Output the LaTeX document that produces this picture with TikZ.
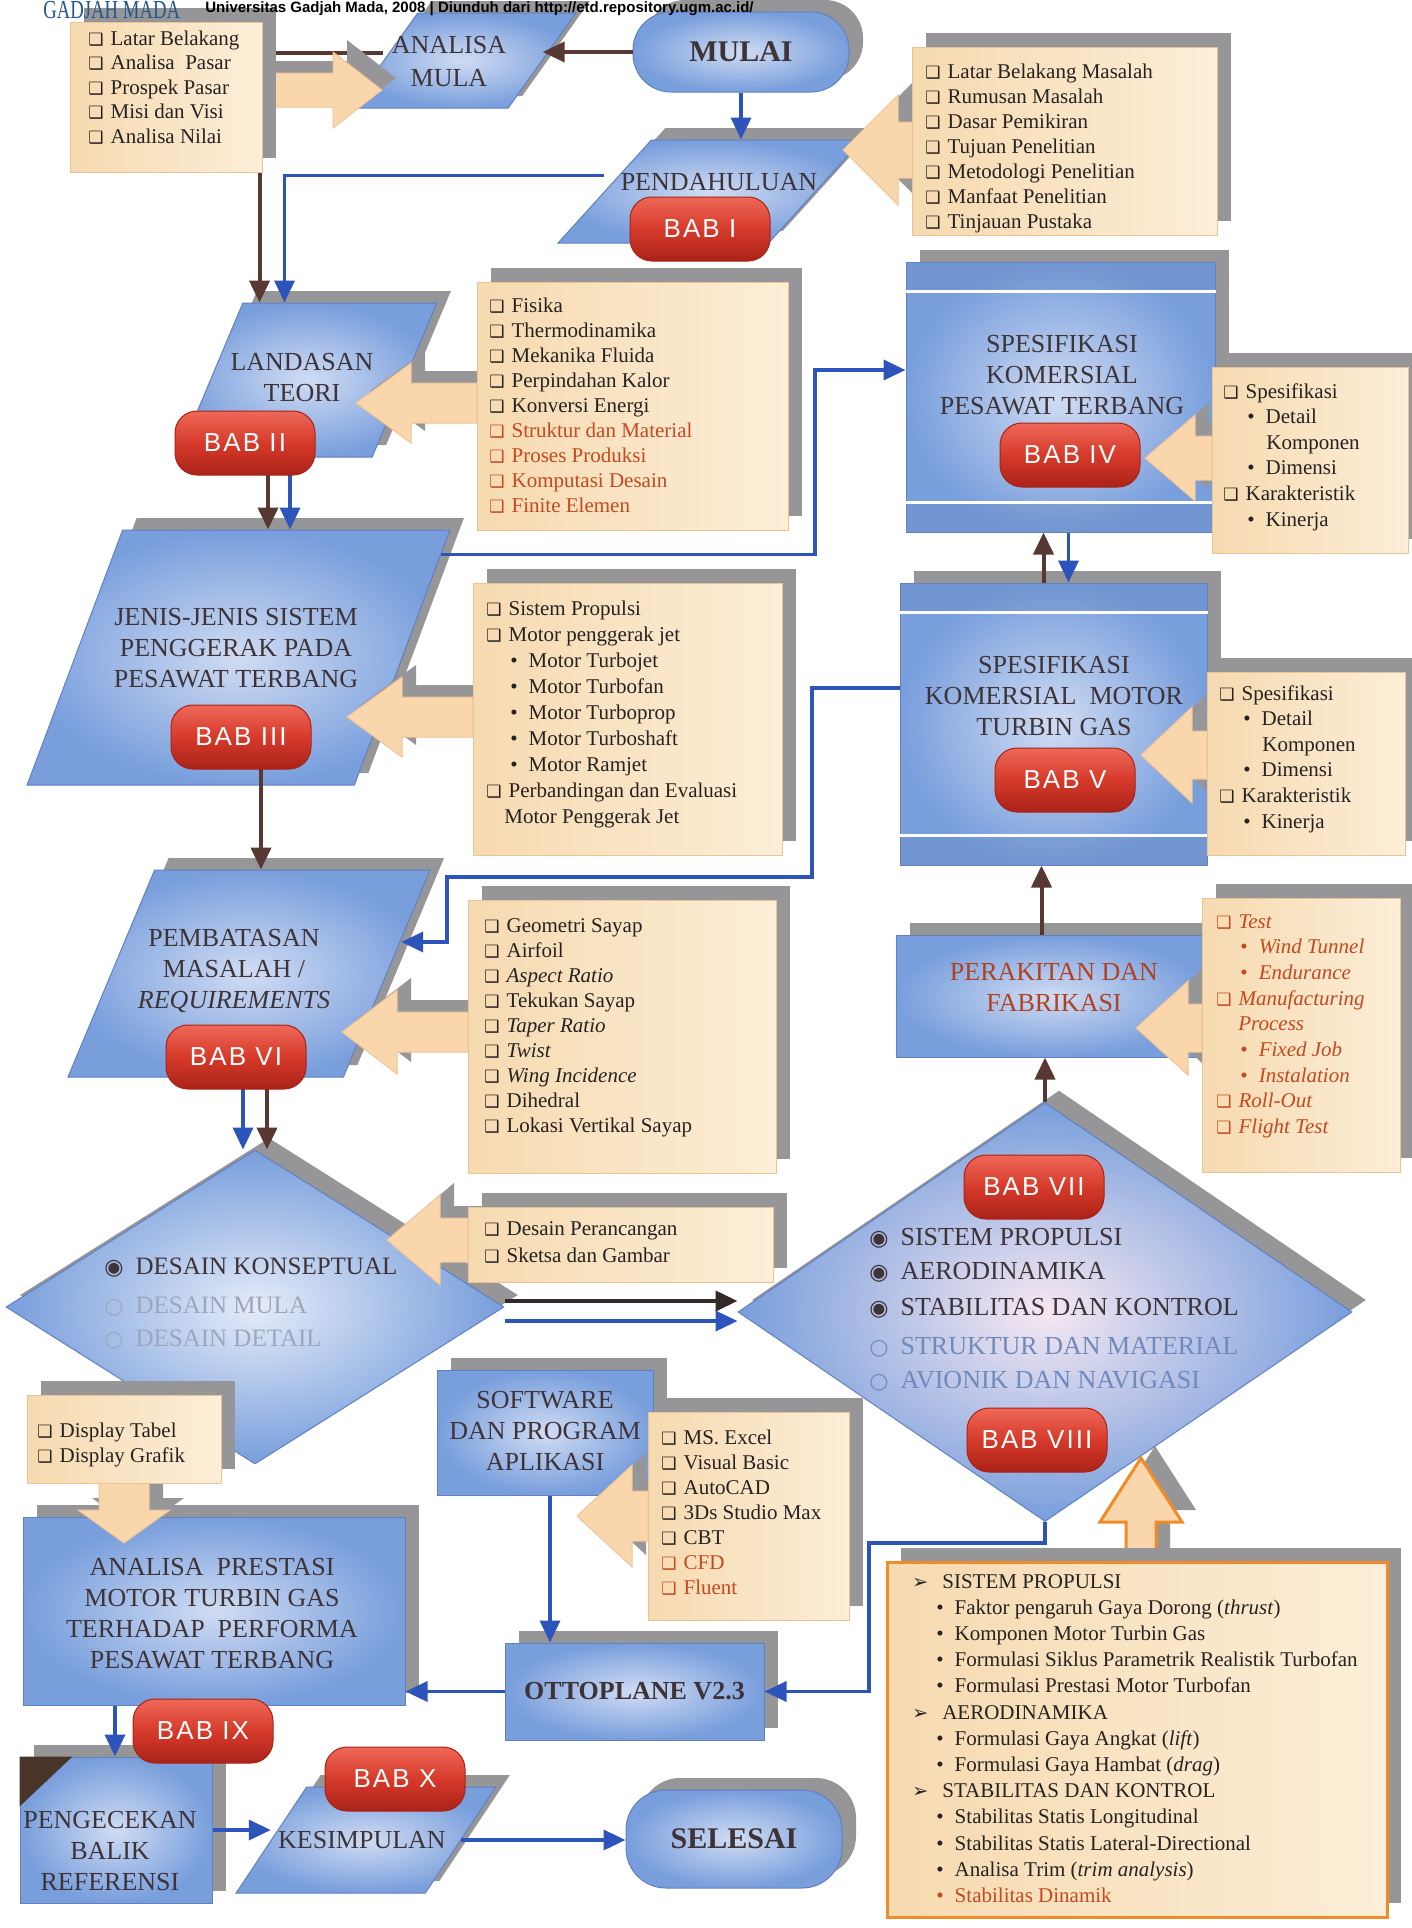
\documentclass[tikz,border=0pt]{standalone}
\usepackage{graphicx}
\usepackage{fontspec}
\setmainfont{Liberation Serif}
\newfontfamily\symf{DejaVu Sans}
\newfontfamily\sansf[LetterSpace=8]{Liberation Sans}
\newfontfamily\hdrf{Liberation Sans}
\usetikzlibrary{shapes.geometric,shadows,arrows.meta}
\definecolor{bA}{RGB}{120,158,220}
\definecolor{bB}{RGB}{208,220,243}
\definecolor{bEdge}{RGB}{96,128,196}
\definecolor{shadowgray}{RGB}{150,150,152}
\definecolor{beigeD}{RGB}{246,218,176}
\definecolor{beigeL}{RGB}{252,238,216}
\definecolor{beigeEdge}{RGB}{232,196,150}
\definecolor{peach}{RGB}{250,214,172}
\definecolor{peachEdge}{RGB}{240,196,150}
\definecolor{orangeB}{RGB}{240,140,40}
\definecolor{pillT}{RGB}{238,104,88}
\definecolor{pillM}{RGB}{214,58,42}
\definecolor{pillB}{RGB}{170,34,24}
\definecolor{brownA}{RGB}{88,56,50}
\definecolor{darkA}{RGB}{52,42,42}
\definecolor{blueA}{RGB}{44,84,186}
\definecolor{titleC}{RGB}{62,52,56}
\definecolor{itemC}{RGB}{38,34,34}
\definecolor{redC}{RGB}{196,72,32}
\definecolor{perakC}{RGB}{176,66,34}
\definecolor{fadedA}{RGB}{158,166,190}
\definecolor{fadedB}{RGB}{112,138,188}
\definecolor{gmC}{RGB}{36,88,140}
\definecolor{darkbrown}{RGB}{72,52,40}
\definecolor{diaIn}{RGB}{246,232,242}
\newcommand\ckb{{\symf\fontsize{8.5}{8.5}\selectfont ❑}\hspace{3.5pt}}
\newcommand\bul{\hspace{12pt}\textbullet\hspace{5.5pt}}
\newcommand\radon{{\symf\fontsize{11}{11}\selectfont ◉}\hspace{6pt}}
\newcommand\radoff{{\symf\fontsize{11}{11}\selectfont ○}\hspace{6pt}}
\newcommand\itarr{{\symf\fontsize{9.5}{9.5}\selectfont ➢}\hspace{7pt}}
\newcommand\itemlist[5]{\foreach \tx [count=\ii] in {#5}{\node[itm] (#1-\ii) at (#2,{#3+#4*(\ii-1)}) {\tx};}}
\newcommand\fatH[7][fatbody]{%
 \fill[fatshadow] ({#2+14},{#3-12}) -- ({#4+14},{#3-#6-12}) -- ({#4+14},{#3-#7-12}) -- ({#5+14},{#3-#7-12}) -- ({#5+14},{#3+#7-12}) -- ({#4+14},{#3+#7-12}) -- ({#4+14},{#3+#6-12}) -- cycle;
 \path[#1] (#2,#3) -- (#4,{#3-#6}) -- (#4,{#3-#7}) -- (#5,{#3-#7}) -- (#5,{#3+#7}) -- (#4,{#3+#7}) -- (#4,{#3+#6}) -- cycle;}
\newcommand\fatV[7][fatbody]{%
 \fill[fatshadow] ({#2+14},{#3-12}) -- ({#2-#6+14},{#4-12}) -- ({#2-#7+14},{#4-12}) -- ({#2-#7+14},{#5-12}) -- ({#2+#7+14},{#5-12}) -- ({#2+#7+14},{#4-12}) -- ({#2+#6+14},{#4-12}) -- cycle;
 \path[#1] (#2,#3) -- ({#2-#6},#4) -- ({#2-#7},#4) -- ({#2-#7},#5) -- ({#2+#7},#5) -- ({#2+#7},#4) -- ({#2+#6},#4) -- cycle;}
\tikzset{
 blueshape/.style={general shadow={fill=shadowgray, shadow xshift=7pt, shadow yshift=6pt}, inner color=bB, outer color=bA, draw=bEdge, line width=0.5pt, inner sep=0pt},
 para/.style={blueshape, trapezium, trapezium stretches=true, inner sep=3pt},
 listbox/.style={general shadow={fill=shadowgray, shadow xshift=7pt, shadow yshift=7pt}, left color=beigeD, right color=beigeL, draw=beigeEdge, line width=0.5pt, inner sep=0pt},
 pill/.style={rectangle, rounded corners=11pt, minimum width=70pt, minimum height=32pt, inner sep=0pt, top color=pillT, bottom color=pillB, middle color=pillM, draw=pillB, line width=0.5pt, text=white, font=\sansf\fontsize{13}{13}\selectfont},
 ttl/.style={font=\fontsize{13}{15.5}\selectfont, text=titleC, align=center, inner sep=0pt},
 itm/.style={font=\fontsize{10.5}{12}\selectfont, text=itemC, inner sep=0pt, anchor=west, text height=7.5pt, text depth=2.5pt},
 dtx/.style={text=titleC, inner sep=0pt, anchor=west},
 brownarr/.style={draw=brownA, line width=2pt, -{Triangle[length=11pt,width=10pt]}},
 darkarr/.style={draw=darkA, line width=2pt, -{Triangle[length=11pt,width=10pt]}},
 bluearr/.style={draw=blueA, line width=1.8pt, -{Triangle[length=11pt,width=10pt]}},
 fatbody/.style={fill=peach, draw=peachEdge, line width=0.5pt},
 fatshadow/.style={fill=shadowgray}
}
\begin{document}
\begin{tikzpicture}[x=0.5pt,y=-0.5pt]
\useasboundingbox (0,0) rectangle (1412,1928);
\clip (0,0) rectangle (1412,1928);
\fill[white] (0,0) rectangle (1412,1928);

% ---------- blue shapes ----------
\node[blueshape, rounded corners=19pt, minimum width=108pt, minimum height=40pt, font=\fontsize{15}{15}\selectfont\bfseries, text=titleC] (mulai) at (741,52) {MULAI};
\node[para, trapezium left angle=53.2, trapezium right angle=126.8, minimum width=113pt, minimum height=47.5pt] (amula) at (463,60.5) {};
\node[para, trapezium left angle=51.5, trapezium right angle=128.5, minimum width=152pt, minimum height=51.5pt] (pend) at (710,191.5) {};
\node[para, trapezium left angle=63.4, trapezium right angle=116.6, minimum width=129.5pt, minimum height=77pt] (land) at (307.5,380) {};
\node[blueshape, minimum width=154.5pt, minimum height=135pt] (box4) at (1060.5,397) {};
\node[para, trapezium left angle=67.6, trapezium right angle=112.4, minimum width=211.5pt, minimum height=127.5pt] (jenis) at (238.5,657.5) {};
\node[blueshape, minimum width=153.5pt, minimum height=141pt] (box5) at (1053.5,724) {};
\node[para, trapezium left angle=65.35, trapezium right angle=114.65, minimum width=181pt, minimum height=103.5pt] (pemb) at (249,973.5) {};
\node[blueshape, minimum width=155.5pt, minimum height=61pt] (perak) at (1051.5,996) {};
\node[blueshape, diamond, aspect=1.586, minimum width=249pt, minimum height=157pt, inner color=bB!55!white] (dia1) at (255,1307) {};
\node[blueshape, diamond, aspect=1.465, minimum width=307pt, minimum height=209.5pt, inner color=diaIn] (dia2) at (1045,1312) {};
\node[blueshape, minimum width=108pt, minimum height=62.5pt] (soft) at (545,1432.5) {};
\node[blueshape, minimum width=129.5pt, minimum height=48.5pt, font=\fontsize{13}{13}\selectfont\bfseries, text=titleC] (otto) at (634.5,1691.5) {OTTOPLANE V2.3};
\node[blueshape, minimum width=191pt, minimum height=94pt] (anpres) at (214,1611) {};
\node[blueshape, minimum width=96pt, minimum height=73pt] (peng) at (116,1830) {};
\node[para, trapezium left angle=59.3, trapezium right angle=120.7, minimum width=130pt, minimum height=53pt] (kesim) at (366,1840) {};
\node[blueshape, rounded corners=20pt, minimum width=108pt, minimum height=49pt, font=\fontsize{15}{15}\selectfont\bfseries, text=titleC] (selesai) at (734,1839) {SELESAI};

% details
\fill[darkbrown] (peng.north west) -- ([xshift=26.5pt]peng.north west) -- ([yshift=-25pt]peng.north west) -- cycle;
\foreach \bx in {box4,box5}{
 \fill[bA!85!black, opacity=0.3] (\bx.north west) rectangle ([yshift=-15pt]\bx.north east);
 \fill[bA!85!black, opacity=0.3] ([yshift=15pt]\bx.south west) rectangle (\bx.south east);
 \draw[white, line width=1.2pt] ([yshift=-15pt]\bx.north west) -- ([yshift=-15pt]\bx.north east);
 \draw[white, line width=1.2pt] ([yshift=15pt]\bx.south west) -- ([yshift=15pt]\bx.south east);}

% pill centres
\path (700,229) coordinate (p1) (245,443) coordinate (p2) (241,737) coordinate (p3) (236,1057) coordinate (p6) (203,1731) coordinate (p9);

% ---------- connectors ----------
\draw[brownarr] (mulai.west) -- (mulai.west -| amula.right side);
\draw[bluearr] (mulai.south) -- (mulai.south |- pend.top side);
\path ([yshift=4pt]amula.left side) coordinate (am1);
\path ([xshift=8.5pt]land.top left corner) coordinate (ld1);
\draw[brownarr] (am1) -| (ld1);
\path ([yshift=8pt]pend.left side) coordinate (pd1);
\path ([xshift=21pt]land.top left corner) coordinate (ld2);
\draw[bluearr] (pd1) -| (ld2);
\path ([xshift=11.5pt,yshift=-16pt]p2) coordinate (b2a);
\path ([xshift=22.5pt,yshift=-16pt]p2) coordinate (b2b);
\draw[brownarr] (b2a) -- (b2a |- jenis.top side);
\draw[bluearr] (b2b) -- (b2b |- jenis.top side);
\path ([xshift=-5pt,yshift=-12.5pt]jenis.top right corner) coordinate (je1);
\coordinate (k1) at (815,370);
\draw[bluearr] (je1) -| (k1) -- (k1 -| box4.west);
\path ([xshift=10pt,yshift=-16pt]p3) coordinate (b3a);
\draw[brownarr] (b3a) -- (b3a |- pemb.top side);
\path ([xshift=-5pt]box5.north) coordinate (b5n);
\draw[brownarr] (b5n) -- (b5n |- box4.south);
\path ([xshift=4pt]box4.south) coordinate (b4s);
\draw[bluearr] (b4s) -- (b4s |- box5.north);
\path ([yshift=18pt]box5.west) coordinate (b5w);
\coordinate (k2) at (812,877);
\coordinate (k3) at (447,942);
\coordinate (k3e) at (k3 -| pemb.right side);
\draw[bluearr] (b5w) -| (k2) -| (k3) -- ([xshift=7pt]k3e);
\path ([xshift=-5pt]perak.north) coordinate (prn);
\draw[brownarr] (prn) -- (prn |- box5.south);
\draw[brownarr] (dia2.north) -- (dia2.north |- perak.south);
\path ([xshift=3.5pt,yshift=-16pt]p6) coordinate (b6a);
\path ([xshift=15.5pt,yshift=-16pt]p6) coordinate (b6b);
\draw[bluearr] (b6a) -- (b6a |- dia1.north);
\draw[brownarr] (b6b) -- (b6b |- dia1.north);
\path ([yshift=3pt]dia1.east) coordinate (d1a);
\path ([yshift=-7pt]dia1.east) coordinate (d1b);
\draw[darkarr] (d1a) -- (d1a -| dia2.west);
\draw[bluearr] (d1b) -- (d1b -| dia2.west);
\path ([xshift=2.5pt]soft.south) coordinate (s1);
\draw[bluearr] (s1) -- (s1 |- otto.north);
\coordinate (k4) at (869,1543);
\draw[bluearr] (dia2.south) |- (k4) |- (otto.east);
\draw[bluearr] (otto.west) -- (otto.west -| anpres.east);
\path ([xshift=-49.5pt]anpres.south) coordinate (ap1);
\draw[bluearr] (ap1) -- (ap1 |- peng.north);
\draw[bluearr] (peng.east) -- (peng.east -| kesim.left side);
\draw[bluearr] (kesim.right side) -- (kesim.right side -| selesai.west);

% ---------- fat arrows ----------
\fatH{382}{90}{333}{262}{38}{17}
\fatH{843}{150}{898}{914}{55}{28}
\fatH{356}{403}{411}{477}{40}{20}
\fatH{347}{717}{402}{473}{40}{20}
\fatH{342}{1032}{397}{468}{42}{20}
\fatH{387}{1240}{440}{468}{45}{22}
\fatH{1145}{458}{1195}{1212}{43}{22}
\fatH{1141}{755}{1192}{1207}{48}{24}
\fatH{1136}{1028}{1188}{1202}{47}{24}
\fatH{577}{1516}{632}{648}{51}{25}
\fatV{124}{1543}{1510}{1483}{46}{25}
\fatV[fatbody,draw=orangeB,line width=1.5pt]{1141}{1458}{1522}{1564}{41}{15}

% ---------- list boxes ----------
\node[listbox, minimum width=96pt, minimum height=75pt] (LB1) at (166,97) {};
\node[listbox, minimum width=152.5pt, minimum height=94pt] (LB2) at (1064.5,141) {};
\node[listbox, minimum width=155.5pt, minimum height=124pt] (LB3) at (632.5,406) {};
\node[listbox, minimum width=98pt, minimum height=93pt] (LB4) at (1310,460) {};
\node[listbox, minimum width=154.5pt, minimum height=136pt] (LB5) at (627.5,719) {};
\node[listbox, minimum width=99pt, minimum height=91.5pt] (LB6) at (1306,763.5) {};
\node[listbox, minimum width=99pt, minimum height=137pt] (LB7) at (1301,1035) {};
\node[listbox, minimum width=154pt, minimum height=136.5pt] (LB8) at (622,1036.5) {};
\node[listbox, minimum width=152.5pt, minimum height=37.5pt] (LB9) at (620.5,1244.5) {};
\node[listbox, minimum width=97pt, minimum height=44pt] (LB10) at (124,1439) {};
\node[listbox, minimum width=100.5pt, minimum height=104pt] (LB11) at (748.5,1516) {};
\node[listbox, draw=orangeB, line width=1.5pt, minimum width=250pt, minimum height=177.5pt] (LB12) at (1137,1739.5) {};

% ---------- pills ----------
\node[pill] (bab1) at (p1) {BAB I};
\node[pill] (bab2) at (p2) {BAB II};
\node[pill] (bab3) at (p3) {BAB III};
\node[pill] (bab4) at (1070,455) {BAB IV};
\node[pill] (bab5) at (1065,780) {BAB V};
\node[pill] (bab6) at (p6) {BAB VI};
\node[pill] (bab7) at (1034,1187) {BAB VII};
\node[pill] (bab8) at (1037,1440) {BAB VIII};
\node[pill] (bab9) at (p9) {BAB IX};
\node[pill] (bab10) at (395,1779) {BAB X};

% ---------- titles ----------
\node[ttl, font=\fontsize{13}{16.5}\selectfont] (t-amula) at (449,61.5) {ANALISA\\MULA};
\node[ttl] (t-pend) at (719,182) {PENDAHULUAN};
\node[ttl] (t-land) at (302,377.5) {LANDASAN\\TEORI};
\node[ttl] (t-box4) at (1062,375) {SPESIFIKASI\\KOMERSIAL\\PESAWAT TERBANG};
\node[ttl] (t-jenis) at (236,648.5) {JENIS-JENIS SISTEM\\PENGGERAK PADA\\PESAWAT TERBANG};
\node[ttl] (t-box5) at (1054,696) {SPESIFIKASI\\KOMERSIAL\ \ MOTOR\\TURBIN GAS};
\node[ttl, text=perakC] (t-perak) at (1054,987.5) {PERAKITAN DAN\\FABRIKASI};
\node[ttl] (t-pemb) at (234,971) {PEMBATASAN\\MASALAH /\\\textit{REQUIREMENTS}};
\node[ttl] (t-soft) at (545,1431.5) {SOFTWARE\\DAN PROGRAM\\APLIKASI};
\node[ttl] (t-anpres) at (212,1614) {ANALISA\ \ PRESTASI\\MOTOR TURBIN GAS\\TERHADAP\ \ PERFORMA\\PESAWAT TERBANG};
\node[ttl] (t-peng) at (110,1851) {PENGECEKAN\\BALIK\\REFERENSI};
\node[ttl] (t-kesim) at (362,1840) {KESIMPULAN};

% ---------- diamond texts ----------
\node[dtx, font=\fontsize{12.5}{12.5}\selectfont] (d1-1) at (104,1268) {\radon DESAIN KONSEPTUAL};
\node[dtx, font=\fontsize{12.5}{12.5}\selectfont, text=fadedA] (d1-2) at (104,1307) {\radoff DESAIN MULA};
\node[dtx, font=\fontsize{12.5}{12.5}\selectfont, text=fadedA] (d1-3) at (104,1340) {\radoff DESAIN DETAIL};
\node[dtx, font=\fontsize{13}{13}\selectfont] (d2-1) at (869,1238) {\radon SISTEM PROPULSI};
\node[dtx, font=\fontsize{13}{13}\selectfont] (d2-2) at (869,1272) {\radon AERODINAMIKA};
\node[dtx, font=\fontsize{13}{13}\selectfont] (d2-3) at (869,1308) {\radon STABILITAS DAN KONTROL};
\node[dtx, font=\fontsize{13}{13}\selectfont, text=fadedB] (d2-4) at (869,1347) {\radoff STRUKTUR DAN MATERIAL};
\node[dtx, font=\fontsize{13}{13}\selectfont, text=fadedB] (d2-5) at (869,1381) {\radoff AVIONIK DAN NAVIGASI};

% ---------- list items ----------
\itemlist{L1}{88}{40}{24.5}{\ckb Latar Belakang, \ckb Analisa\ \ Pasar, \ckb Prospek Pasar, \ckb Misi dan Visi, \ckb Analisa Nilai}
\itemlist{L2}{925}{73}{25}{\ckb Latar Belakang Masalah, \ckb Rumusan Masalah, \ckb Dasar Pemikiran, \ckb Tujuan Penelitian, \ckb Metodologi Penelitian, \ckb Manfaat Penelitian, \ckb Tinjauan Pustaka}
\itemlist{L3}{489}{307}{25}{\ckb Fisika, \ckb Thermodinamika, \ckb Mekanika Fluida, \ckb Perpindahan Kalor, \ckb Konversi Energi, {\color{redC}\ckb Struktur dan Material}, {\color{redC}\ckb Proses Produksi}, {\color{redC}\ckb Komputasi Desain}, {\color{redC}\ckb Finite Elemen}}
\itemlist{L4}{1223}{393}{25.6}{\ckb Spesifikasi, \bul Detail, \hspace{21.5pt}Komponen, \bul Dimensi, \ckb Karakteristik, \bul Kinerja}
\itemlist{L5}{486}{610}{26}{\ckb Sistem Propulsi, \ckb Motor penggerak jet, \bul Motor Turbojet, \bul Motor Turbofan, \bul Motor Turboprop, \bul Motor Turboshaft, \bul Motor Ramjet, \ckb Perbandingan dan Evaluasi, \hspace{9pt}Motor Penggerak Jet}
\itemlist{L6}{1219}{695}{25.6}{\ckb Spesifikasi, \bul Detail, \hspace{21.5pt}Komponen, \bul Dimensi, \ckb Karakteristik, \bul Kinerja}
\itemlist{L7}{1216}{923}{25.7}{{\color{redC}\ckb\textit{Test}}, {\color{redC}\bul\textit{Wind Tunnel}}, {\color{redC}\bul\textit{Endurance}}, {\color{redC}\ckb\textit{Manufacturing}}, {\color{redC}\hspace{11pt}\textit{Process}}, {\color{redC}\bul\textit{Fixed Job}}, {\color{redC}\bul\textit{Instalation}}, {\color{redC}\ckb\textit{Roll-Out}}, {\color{redC}\ckb\textit{Flight Test}}}
\itemlist{L8}{484}{927}{25}{\ckb Geometri Sayap, \ckb Airfoil, \ckb\textit{Aspect Ratio}, \ckb Tekukan Sayap, \ckb\textit{Taper Ratio}, \ckb\textit{Twist}, \ckb\textit{Wing Incidence}, \ckb Dihedral, \ckb Lokasi Vertikal Sayap}
\itemlist{L9}{484}{1230}{27}{\ckb Desain Perancangan, \ckb Sketsa dan Gambar}
\itemlist{L10}{37}{1432}{25}{\ckb Display Tabel, \ckb Display Grafik}
\itemlist{L11}{661}{1439}{25}{\ckb MS. Excel, \ckb Visual Basic, \ckb AutoCAD, \ckb 3Ds Studio Max, \ckb CBT, {\color{redC}\ckb CFD}, {\color{redC}\ckb Fluent}}
\itemlist{L12}{912}{1583}{26.2}{\itarr SISTEM PROPULSI, \bul Faktor pengaruh Gaya Dorong (\textit{thrust}), \bul Komponen Motor Turbin Gas, \bul Formulasi Siklus Parametrik Realistik Turbofan, \bul Formulasi Prestasi Motor Turbofan, \itarr AERODINAMIKA, \bul Formulasi Gaya Angkat (\textit{lift}), \bul Formulasi Gaya Hambat (\textit{drag}), \itarr STABILITAS DAN KONTROL, \bul Stabilitas Statis Longitudinal, \bul Stabilitas Statis Lateral-Directional, \bul Analisa Trim (\textit{trim analysis}), {\color{redC}\bul Stabilitas Dinamik}}

% ---------- header (on top) ----------
\node[anchor=base west, inner sep=0pt, text=gmC] (gm) at (43,18) {\scalebox{0.72}[1]{\fontsize{13}{13}\selectfont GADJAH MADA}};
\node[anchor=base west, inner sep=0pt, text=black, font=\hdrf\bfseries\fontsize{7.5}{7.5}\selectfont] (hdr) at (205,12) {Universitas Gadjah Mada, 2008 | Diunduh dari http://etd.repository.ugm.ac.id/};
\end{tikzpicture}
\end{document}
